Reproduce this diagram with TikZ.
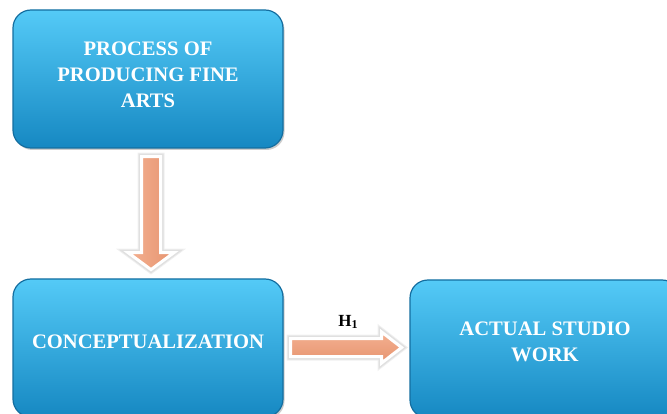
\documentclass[tikz,border=0pt]{standalone}
\usepackage{fontspec}
\setmainfont{Liberation Serif}
\usetikzlibrary{calc,shadows}
\definecolor{boxtop}{RGB}{84,202,247}
\definecolor{boxbot}{RGB}{22,136,194}
\definecolor{boxedge}{RGB}{20,110,160}
\definecolor{arrleft}{RGB}{244,176,144}
\definecolor{arrright}{RGB}{230,148,112}
\tikzset{
  bluebox/.style={rounded corners=18pt, draw=boxedge, line width=1.2pt,
    top color=boxtop, bottom color=boxbot,
    minimum width=270pt, minimum height=138pt,
    drop shadow={shadow xshift=1.5pt, shadow yshift=-2pt, opacity=0.4}},
  boxtext/.style={text=white, align=center,
    font=\fontsize{20.6}{26}\selectfont\bfseries},
  fatarrow/.style={line join=miter,
    preaction={draw=black!6, line width=8pt, line join=miter},
    preaction={draw=black!12, line width=6pt, line join=miter},
    draw=white, line width=3pt, fill=arrright},
  hlabel/.style={font=\fontsize{17}{18}\selectfont\bfseries}
}
\begin{document}
\begin{tikzpicture}[x=1pt,y=1pt]
\useasboundingbox (0,0) rectangle (667,-414);
\clip (0,0) rectangle (667,-414);

\node[bluebox] (top) at (148,-79) {};
\node[bluebox] (conc) at (148,-348) {};
\node[bluebox] (act) at (545,-349) {};

\node[boxtext] (toptext) at ($(top)+(0,4)$) {PROCESS OF\\PRODUCING FINE\\ARTS};
\node[boxtext] (conctext) at ($(conc)+(0,6)$) {CONCEPTUALIZATION};
\node[boxtext] (acttext) at ($(act)+(0,7)$) {ACTUAL STUDIO\\WORK};

% vertical arrow from top to conc
\path[fatarrow, left color=arrleft, right color=arrright]
  ($(top.south)+(-6.5,-8)$) -- ($(top.south)+(12.5,-8)$)
  -- ($(top.south)+(12.5,-104)$) -- ($(top.south)+(26,-104)$)
  -- ($(top.south)+(3,-121)$) -- ($(top.south)+(-20,-104)$)
  -- ($(top.south)+(-6.5,-104)$) -- cycle;

% horizontal arrow from conc to act
\path[fatarrow, top color=arrleft, bottom color=arrright]
  ($(conc.east)+(7,9.5)$) -- ($(conc.east)+(98,9.5)$)
  -- ($(conc.east)+(98,16)$) -- ($(conc.east)+(118,0.5)$)
  -- ($(conc.east)+(98,-15)$) -- ($(conc.east)+(98,-8.5)$)
  -- ($(conc.east)+(7,-8.5)$) -- cycle;

\node[hlabel] (h1) at (348,-322) {H\raisebox{-2.5pt}{\fontsize{12}{12}\selectfont 1}};
\end{tikzpicture}
\end{document}
